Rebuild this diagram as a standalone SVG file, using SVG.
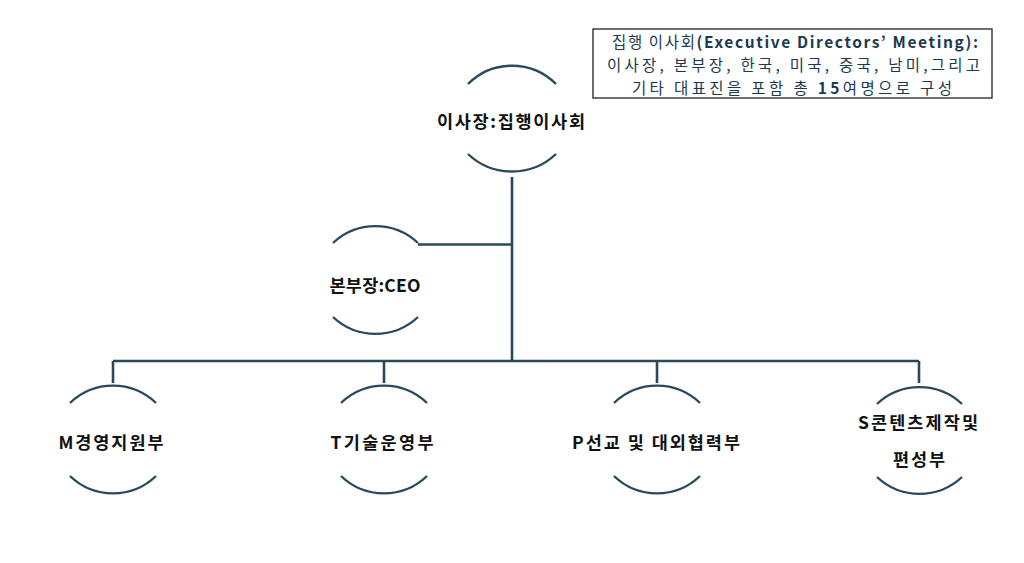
<svg xmlns="http://www.w3.org/2000/svg" width="1024" height="563" viewBox="0 0 1024 563">
<style>
.arc{fill:none;stroke:#2a4a5c;stroke-width:2.4}
.con{fill:none;stroke:#2a4a5c;stroke-width:2.6}
.lbl{font-family:"Noto Sans CJK KR","Noto Sans",sans-serif;font-weight:bold;font-size:17.5px;fill:#111;text-anchor:middle;dominant-baseline:central}
.box{fill:#fff;stroke:#222;stroke-width:1.3}
.note{font-family:"Noto Sans CJK KR","Noto Sans",sans-serif;font-size:15.5px;fill:#1c3a4e;text-anchor:middle;dominant-baseline:central}
.b{font-weight:bold}
</style>
<rect width="1024" height="563" fill="#fff"/>
<g id="connectors">
<path class="con" d="M512,177 V361"/>
<path class="con" d="M418,244.5 H512"/>
<path class="con" d="M113,361 H919"/>
<path class="con" d="M113,361 V383"/>
<path class="con" d="M384,361 V383"/>
<path class="con" d="M657,361 V383"/>
<path class="con" d="M919,361 V383"/>
</g>
<g id="node-chair">
<path class="arc" d="M468,84 A62,62 0 0 1 556,84"/>
<path class="arc" d="M468,154 A64,64 0 0 0 556,154"/>
<text class="lbl" x="511" y="120" textLength="148" lengthAdjust="spacing">이사장:집행이사회</text>
</g>
<g id="node-ceo">
<path class="arc" d="M333,243 A62,62 0 0 1 418,243"/>
<path class="arc" d="M333,317 A62,62 0 0 0 418,317"/>
<text class="lbl" x="375" y="284" textLength="91" lengthAdjust="spacing">본부장:CEO</text>
</g>
<g id="node-m">
<path class="arc" d="M70,403 A62,62 0 0 1 156,403"/>
<path class="arc" d="M70,476 A62,62 0 0 0 156,476"/>
<text class="lbl" x="111" y="441" textLength="105" lengthAdjust="spacing">M경영지원부</text>
</g>
<g id="node-t">
<path class="arc" d="M341,403 A62,62 0 0 1 427,403"/>
<path class="arc" d="M341,476 A62,62 0 0 0 427,476"/>
<text class="lbl" x="382" y="441" textLength="103" lengthAdjust="spacing">T기술운영부</text>
</g>
<g id="node-p">
<path class="arc" d="M614,403 A62,62 0 0 1 700,403"/>
<path class="arc" d="M614,476 A62,62 0 0 0 700,476"/>
<text class="lbl" x="656" y="441" textLength="168" lengthAdjust="spacing">P선교 및 대외협력부</text>
</g>
<g id="node-s">
<path class="arc" d="M877,404 A62,62 0 0 1 962,404"/>
<path class="arc" d="M877,477 A62,62 0 0 0 962,477"/>
<text class="lbl" x="918" y="421" textLength="120" lengthAdjust="spacing">S콘텐츠제작및</text>
<text class="lbl" x="919" y="458" textLength="52" lengthAdjust="spacing">편성부</text>
</g>
<g id="note">
<rect class="box" x="593" y="29" width="399" height="69"/>
<text class="note" x="795" y="41" textLength="366" lengthAdjust="spacing"><tspan>집행 이사회</tspan><tspan class="b">(Executive Directors’ Meeting):</tspan></text>
<text class="note" x="793.5" y="64" textLength="373" lengthAdjust="spacing">이사장, 본부장, 한국, 미국, 중국, 남미,그리고</text>
<text class="note" x="792" y="87" textLength="320" lengthAdjust="spacing">기타 대표진을 포함 총 <tspan class="b">15</tspan>여명으로 구성</text>
</g>
</svg>
